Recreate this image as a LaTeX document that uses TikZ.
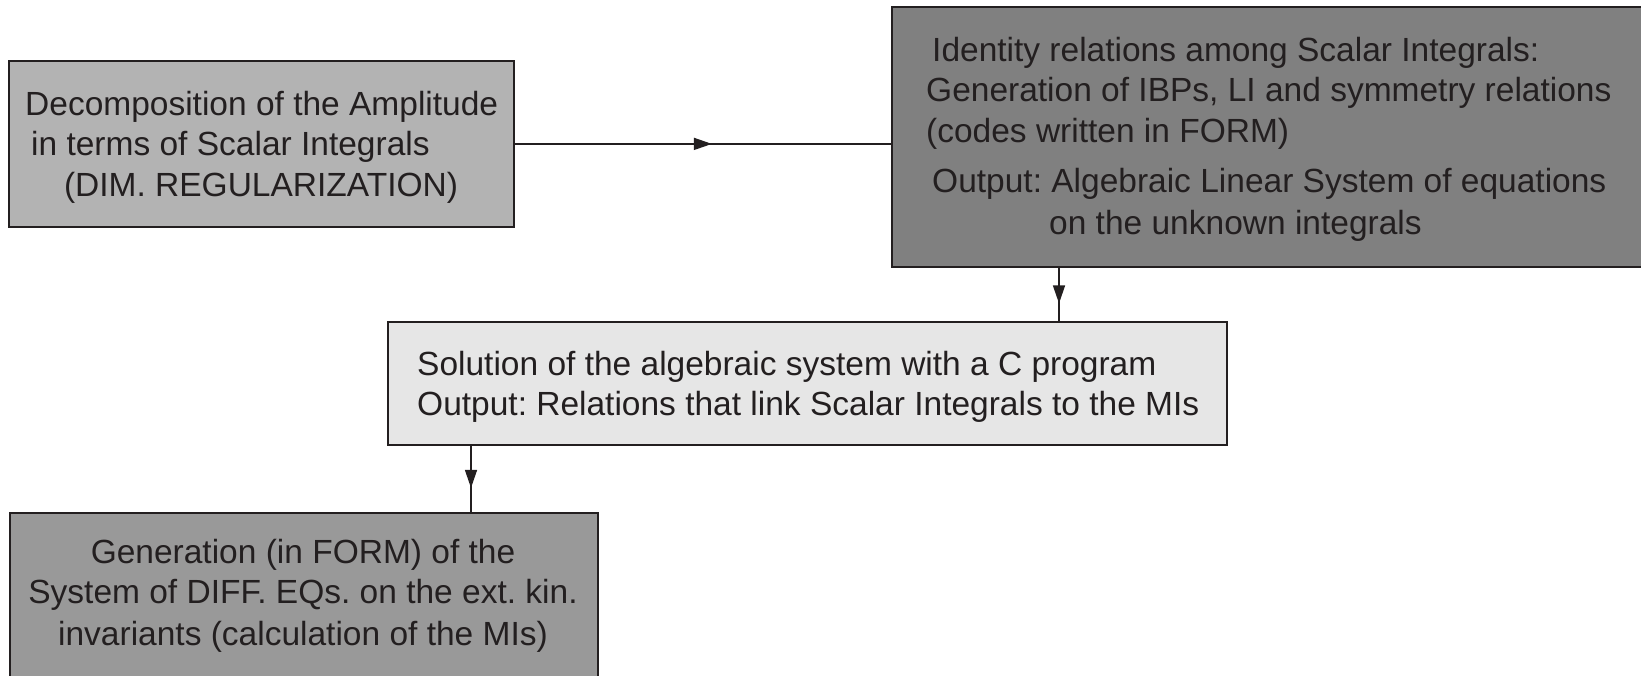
\documentclass[tikz,border=0pt]{standalone}
\usepackage{fontspec}
\setmainfont{Liberation Sans}
\usetikzlibrary{arrows.meta,calc}
\definecolor{ink}{HTML}{231F20}
\definecolor{gA}{HTML}{B3B3B3}
\definecolor{gB}{HTML}{808080}
\definecolor{gC}{HTML}{E6E6E6}
\definecolor{gD}{HTML}{999999}
\frenchspacing
\begin{document}
\frenchspacing
\begin{tikzpicture}[x=1pt,y=-1pt,
  box/.style={draw=ink, line width=1.8pt, inner sep=0pt, anchor=north west},
  txt/.style={anchor=base west, inner sep=0pt, text=ink, font=\fontsize{33.5}{40}\selectfont\frenchspacing},
  ctxt/.style={txt, anchor=base},
  conn/.style={draw=ink, line width=1.5pt},
  tipc/.style={-{Triangle[length=18pt,width=12pt]}, draw=ink, fill=ink, line width=1.5pt}]
\useasboundingbox (0,0) rectangle (1641,675);
\fill[white] (0,0) rectangle (1641,675);
% boxes
\node[box, fill=gA, minimum width=505pt, minimum height=166pt] (b1) at (8,60) {};
\node[box, fill=gB, minimum width=770pt, minimum height=260pt] (b2) at (891,6) {};
\node[box, fill=gC, minimum width=839pt, minimum height=123pt] (b3) at (387,321) {};
\node[box, fill=gD, minimum width=588pt, minimum height=200pt] (b4) at (9,512) {};
% texts
\node[txt] (t11) at (25,115) {Decomposition of the Amplitude};
\node[txt] (t12) at (31,155) {in terms of Scalar Integrals};
\node[ctxt] (t13) at (261,196) {(DIM. REGULARIZATION)};
\node[txt] (t21) at (932,61) {Identity relations among Scalar Integrals:};
\node[txt] (t22) at (926,101) {Generation of IBPs, LI and symmetry relations};
\node[txt] (t23) at (926,142) {(codes written in FORM)};
\node[txt] (t24) at (932,192) {Output: Algebraic Linear System of equations};
\node[txt] (t25) at (1049,234) {on the unknown integrals};
\node[txt] (t31) at (417,375) {Solution of the algebraic system with a C program};
\node[txt] (t32) at (417,415) {Output: Relations that link Scalar Integrals to the MIs};
\node[ctxt] (t41) at (303,563) {Generation (in FORM) of the};
\node[ctxt] (t42) at (303,603) {System of DIFF. EQs. on the ext. kin.};
\node[ctxt] (t43) at (303,645) {invariants (calculation of the MIs)};
% connectors
\coordinate (c2) at (1059,0);
\coordinate (c3) at (471,0);
\draw[conn] (b1.east) -- (b1.east -| b2.west);
\draw[tipc] (b1.east) -- ($(b1.east)!0.5!(b1.east -| b2.west)+(9,0)$);
\draw[conn] (c2 |- b2.south) -- (c2 |- b3.north);
\draw[tipc] (c2 |- b2.south) -- ($(c2 |- b2.south)!0.5!(c2 |- b3.north)+(0,9)$);
\draw[conn] (c3 |- b3.south) -- (c3 |- b4.north);
\draw[tipc] (c3 |- b3.south) -- ($(c3 |- b3.south)!0.5!(c3 |- b4.north)+(0,9)$);
\end{tikzpicture}
\end{document}
